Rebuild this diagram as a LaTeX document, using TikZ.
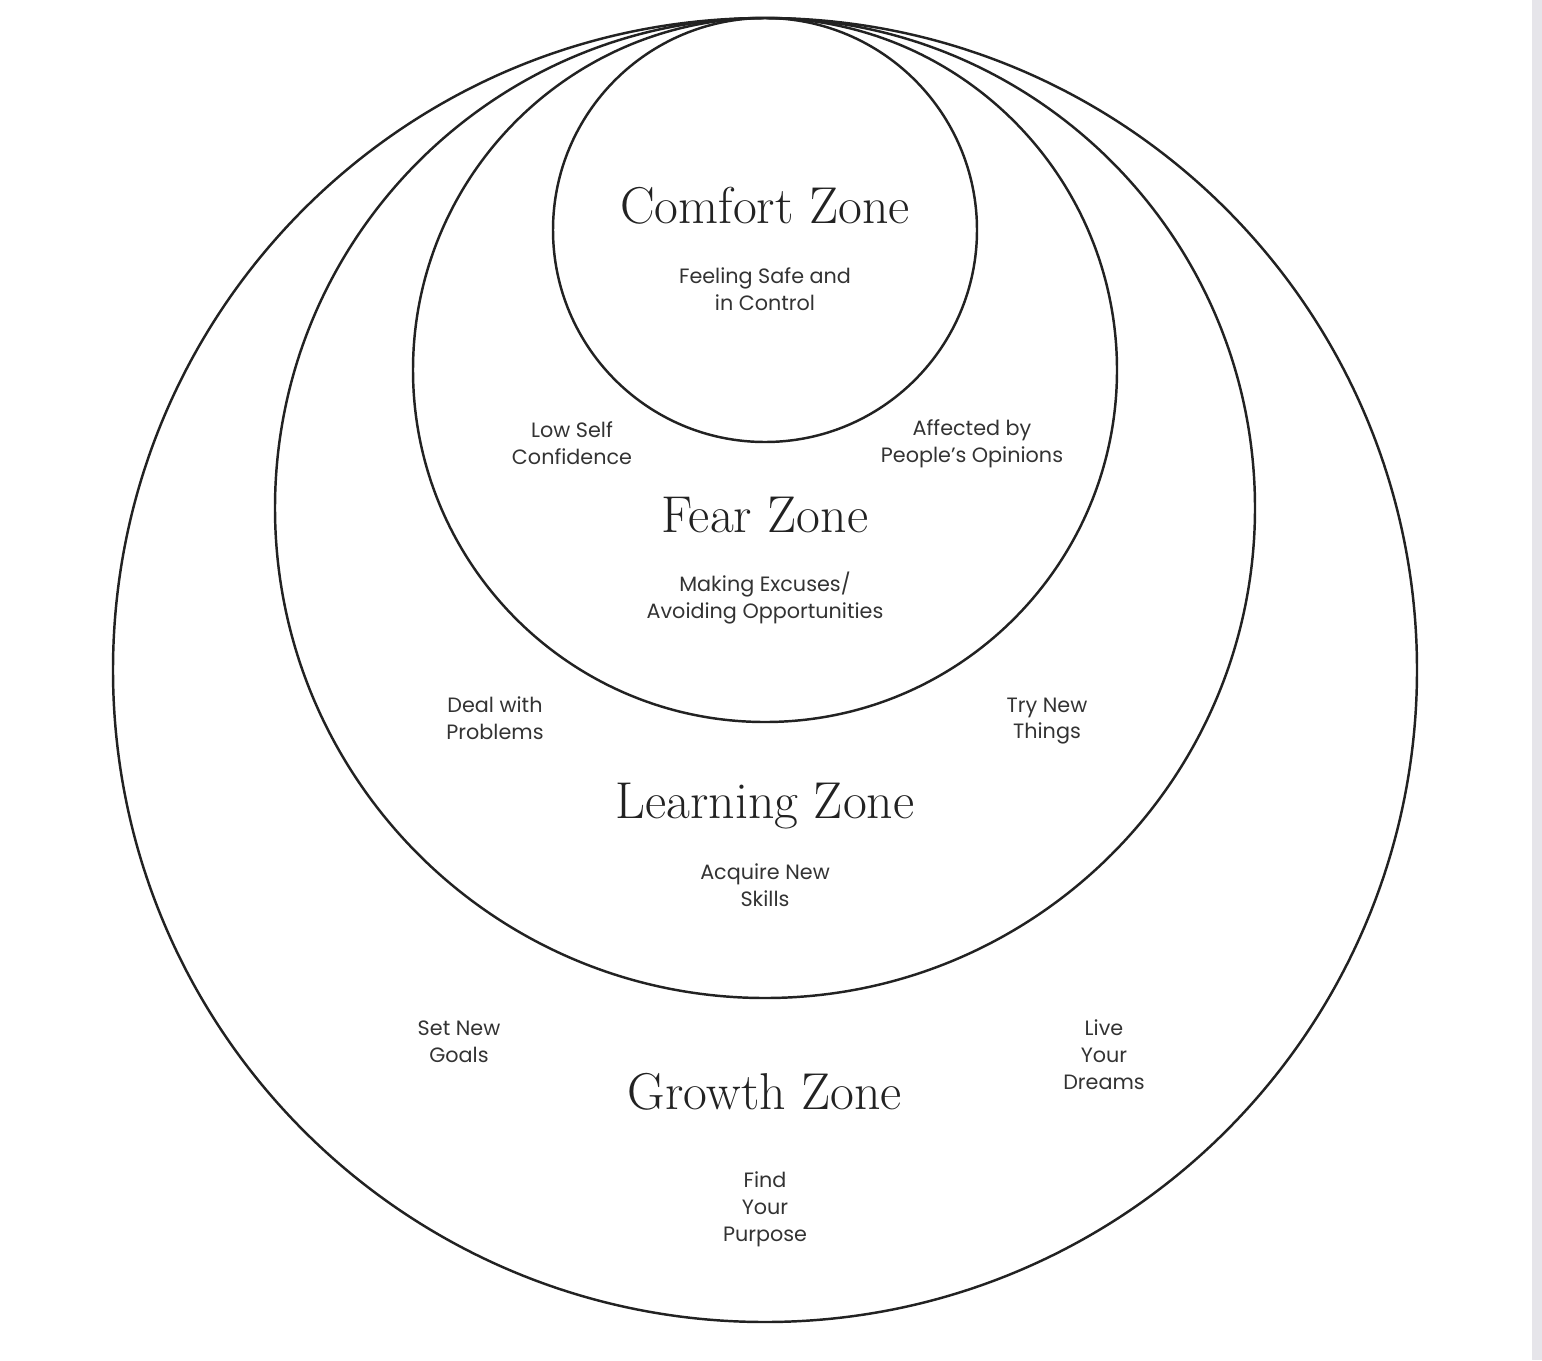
\documentclass[tikz,border=0pt]{standalone}
\usepackage{fontspec}
\setsansfont{Poppins}
\usepackage{xcolor}
\usepackage{tikz}
\usetikzlibrary{positioning, calc, backgrounds}

\definecolor{inkdark}{HTML}{222222}
\definecolor{textgrey}{HTML}{333333}
\definecolor{sidebar}{HTML}{E6E5EA}

\begin{document}
\begin{tikzpicture}[
    x=0.02cm, y=-0.02cm,
    ring/.style={draw=inkdark, line width=1.4pt},
    zone/.style={font=\fontsize{29.5}{32}\selectfont, text=inkdark, inner sep=0pt},
    note/.style={font=\sffamily\fontsize{11.8}{15.3}\selectfont, text=textgrey, align=center, inner sep=0pt}
]
\useasboundingbox (0,0) rectangle (1542,1360);
\fill[sidebar] (1532,0) rectangle (1542,1360);

% centres of the four circles, all touching at the top
\coordinate (cgrowth) at (765,670);
\coordinate (clearn) at (765,508);
\coordinate (cfear) at (765,370);
\coordinate (ccomfort) at (765,230);

\draw[ring] (cgrowth) circle (652);
\draw[ring] (clearn) circle (490);
\draw[ring] (cfear) circle (352);
\draw[ring] (ccomfort) circle (212);

% comfort zone
\node (comfort) [zone] at (765,206) {Comfort Zone};
\node (safe) [note] at (765,289) {Feeling Safe and\\in Control};

% fear zone
\node (lowself) [note] at (572,443) {Low Self\\Confidence};
\node (opinions) [note] at (972,444) {Affected by\\People’s Opinions};
\node (fear) [zone] at (765,515) {Fear Zone};
\node (excuses) [note] at (765,598) {Making Excuses/\\Avoiding Opportunities};

% learning zone
\node (problems) [note] at (495,718) {Deal with\\Problems};
\node (trynew) [note] at (1047,721) {Try New\\Things};
\node (learning) [zone] at (765,806) {Learning Zone};
\node (skills) [note] at (765,885) {Acquire New\\Skills};

% growth zone
\node (goals) [note] at (459,1042) {Set New\\Goals};
\node (dreams) [note] at (1104,1055) {Live\\Your\\Dreams};
\node (growth) [zone] at (765,1092) {Growth Zone};
\node (purpose) [note] at (765,1209) {Find\\Your\\Purpose};
\end{tikzpicture}
\end{document}
